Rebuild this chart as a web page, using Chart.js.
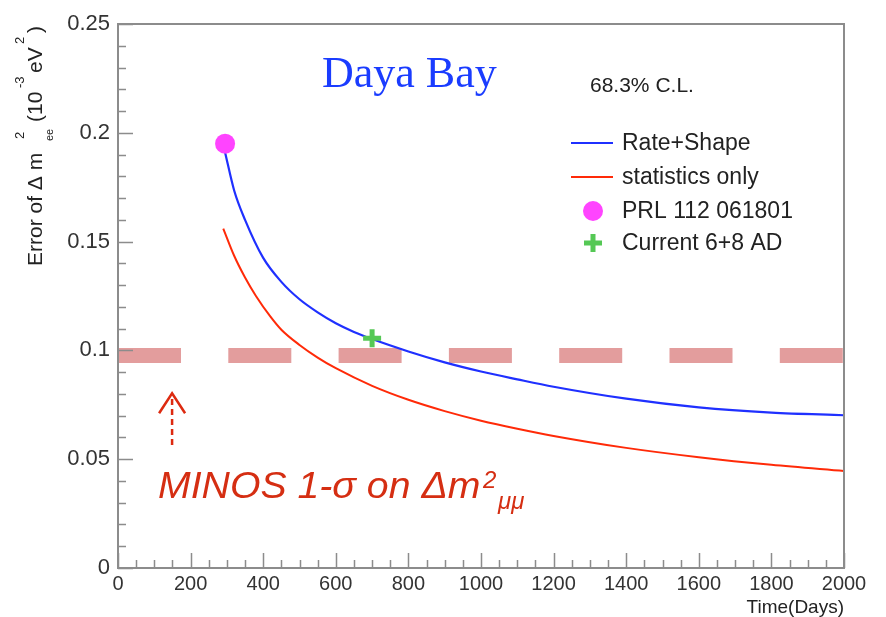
<!DOCTYPE html>
<html>
<head>
<meta charset="utf-8">
<script src="https://cdn.jsdelivr.net/npm/chart.js@4.4.1/dist/chart.umd.min.js"></script>
<style>
  html, body { margin: 0; padding: 0; background: #fff; }
  #wrap { width: 886px; height: 617px; }
</style>
</head>
<body>
<div id="wrap"><canvas id="errorChart" width="886" height="617"></canvas></div>
<script>
// Rate+Shape sensitivity (blue)
const rateShapeDays = [295, 320, 350, 400, 450, 500, 550, 600, 650, 700, 800, 900, 1000, 1100, 1200, 1400, 1600, 1800, 2000];
const rateShapeErr  = [0.191, 0.1735, 0.160, 0.1425, 0.1315, 0.1235, 0.1175, 0.1125, 0.1085, 0.1052, 0.0995, 0.0945, 0.0903, 0.0867, 0.0833, 0.0778, 0.0738, 0.0714, 0.0702];

// statistics only (red)
const statDays = [290, 320, 350, 380, 420, 450, 500, 550, 600, 700, 800, 900, 1000, 1100, 1200, 1400, 1600, 1800, 2000];
const statErr  = [0.156, 0.1435, 0.1335, 0.125, 0.1155, 0.1095, 0.1025, 0.0967, 0.0918, 0.0837, 0.0773, 0.0721, 0.0677, 0.0640, 0.0607, 0.0552, 0.0509, 0.0474, 0.0446];

// single measurements
const prlPoint = [295, 0.195];
const currentPoint = [700, 0.1056];

// MINOS 1-sigma band and its arrow
const minosDays = [0, 2000];
const minosErr = [0.0977, 0.0977];
const arrowDays = 149;
const arrowFrom = 0.0565;
const arrowTo = 0.0803;

// axes
const xTickStep = 200, xMinorStep = 50, xMax = 2000;
const yTickStep = 0.05, yMinorStep = 0.01, yMax = 0.25;

const legendItems = ['Rate+Shape', 'statistics only', 'PRL 112 061801', 'Current 6+8 AD'];

const BLUE = '#1f30ff';
const RED = '#ff2a08';
const PINK = '#ff44ff';
const GREEN = '#55c855';
const BAND = 'rgba(214,110,110,0.68)';
const AXIS = '#8c8c8c';
const TEXT = '#222';
const SANS = '"Liberation Sans", Arial, sans-serif';

function pairs(xs, ys) {
    return xs.map((x, i) => ({ x: x, y: ys[i] }));
}

// Frame, inner ticks, titles, legend, annotations
const rootStyle = {
    id: 'rootStyle',
    afterDraw(chart) {
        const ctx = chart.ctx;
        const a = chart.chartArea;
        const xs = chart.scales.x, ys = chart.scales.y;
        ctx.save();

        // inner tick marks
        ctx.strokeStyle = AXIS;
        ctx.lineWidth = 1.5;
        ctx.beginPath();
        for (let i = 0; i <= Math.round(xMax / xMinorStep); i++) {
            const v = i * xMinorStep;
            const px = Math.round(xs.getPixelForValue(v)) + 0.5;
            const len = (i % Math.round(xTickStep / xMinorStep) === 0) ? 15 : 8;
            ctx.moveTo(px, a.bottom);
            ctx.lineTo(px, a.bottom - len);
        }
        for (let i = 0; i <= Math.round(yMax / yMinorStep); i++) {
            const v = i * yMinorStep;
            const py = Math.round(ys.getPixelForValue(v)) + 0.5;
            const len = (i % Math.round(yTickStep / yMinorStep) === 0) ? 15 : 8;
            ctx.moveTo(a.left, py);
            ctx.lineTo(a.left + len, py);
        }
        ctx.stroke();

        // frame
        ctx.lineWidth = 2;
        ctx.strokeStyle = AXIS;
        ctx.strokeRect(a.left, a.top, a.right - a.left, a.bottom - a.top);

        // arrow pointing at the MINOS band
        const ax = xs.getPixelForValue(arrowDays);
        const y0 = ys.getPixelForValue(arrowFrom);
        const y1 = ys.getPixelForValue(arrowTo);
        ctx.strokeStyle = '#dd2a10';
        ctx.lineWidth = 2.5;
        ctx.setLineDash([6, 4]);
        ctx.beginPath();
        ctx.moveTo(ax, y0);
        ctx.lineTo(ax, y1 + 3);
        ctx.stroke();
        ctx.setLineDash([]);
        ctx.beginPath();
        ctx.moveTo(ax - 13, y1 + 20);
        ctx.lineTo(ax, y1);
        ctx.lineTo(ax + 13, y1 + 20);
        ctx.stroke();

        // MINOS label (slightly wide italic face, like the original)
        ctx.save();
        ctx.fillStyle = '#d52e12';
        ctx.textBaseline = 'alphabetic';
        ctx.textAlign = 'left';
        ctx.translate(158, 498);
        ctx.scale(1.06, 1);
        ctx.font = 'italic 37px ' + SANS;
        const main = 'MINOS 1-σ on Δm';
        ctx.fillText(main, 0, 0);
        ctx.restore();
        ctx.fillStyle = '#d52e12';
        ctx.font = 'italic 24px ' + SANS;
        ctx.fillText('2', 483, 488);
        ctx.font = 'italic 24px ' + SANS;
        ctx.fillText('μμ', 498, 509);

        // Daya Bay
        ctx.fillStyle = '#1a3cff';
        ctx.font = '44px "Liberation Serif", "Times New Roman", serif';
        ctx.fillText('Daya Bay', 322, 87);

        // confidence level
        ctx.fillStyle = TEXT;
        ctx.font = '21px ' + SANS;
        ctx.fillText('68.3% C.L.', 590, 92);

        // legend
        const lx = 571, lx2 = 613, tx0 = 622;
        const rows = [143, 177, 211, 243];
        ctx.font = '23px ' + SANS;
        ctx.textBaseline = 'middle';
        ctx.lineWidth = 2;
        ctx.strokeStyle = BLUE;
        ctx.beginPath(); ctx.moveTo(lx, rows[0]); ctx.lineTo(lx2, rows[0]); ctx.stroke();
        ctx.strokeStyle = RED;
        ctx.beginPath(); ctx.moveTo(lx, rows[1]); ctx.lineTo(lx2, rows[1]); ctx.stroke();
        ctx.fillStyle = PINK;
        ctx.beginPath(); ctx.arc(593, rows[2], 10, 0, Math.PI * 2); ctx.fill();
        ctx.strokeStyle = GREEN;
        ctx.lineWidth = 5;
        ctx.beginPath();
        ctx.moveTo(584, rows[3]); ctx.lineTo(602, rows[3]);
        ctx.moveTo(593, rows[3] - 9); ctx.lineTo(593, rows[3] + 9);
        ctx.stroke();
        ctx.fillStyle = TEXT;
        legendItems.forEach((t, i) => ctx.fillText(t, tx0, rows[i] + 1));

        // x title
        ctx.textBaseline = 'alphabetic';
        ctx.textAlign = 'right';
        ctx.font = '19px ' + SANS;
        ctx.fillText('Time(Days)', a.right, 613);

        // y title, rotated, ROOT-style sub/superscripts
        ctx.translate(42, 266);
        ctx.rotate(-Math.PI / 2);
        ctx.textAlign = 'left';
        const big = '21px ' + SANS;
        const put = (s, size, p, dy) => {
            ctx.font = size + 'px ' + SANS;
            ctx.fillText(s, p, dy);
        };
        put('Error of Δ m', 21, 0, 0);
        put('2', 13, 127, -18);
        put('ee', 11, 125, 11);
        put('(10', 21, 144, 0);
        put('-3', 13, 178, -18);
        put('eV', 21, 193, 0);
        put('2', 13, 222, -18);
        put(')', 21, 233, 0);

        ctx.restore();
    }
};

const chart = new Chart(document.getElementById('errorChart'), {
    type: 'scatter',
    data: {
        datasets: [
            {
                label: 'MINOS 1-sigma',
                data: pairs(minosDays, minosErr),
                showLine: true,
                borderColor: BAND,
                borderWidth: 15,
                borderDash: [63, 47.3],
                borderCapStyle: 'butt',
                pointRadius: 0,
                order: 5
            },
            {
                label: legendItems[1],
                data: pairs(statDays, statErr),
                showLine: true,
                borderColor: RED,
                borderWidth: 2,
                cubicInterpolationMode: 'monotone',
                pointRadius: 0,
                order: 4
            },
            {
                label: legendItems[0],
                data: pairs(rateShapeDays, rateShapeErr),
                showLine: true,
                borderColor: BLUE,
                borderWidth: 2.2,
                cubicInterpolationMode: 'monotone',
                pointRadius: 0,
                order: 3
            },
            {
                label: legendItems[2],
                data: [{ x: prlPoint[0], y: prlPoint[1] }],
                pointStyle: 'circle',
                pointRadius: 10,
                backgroundColor: PINK,
                borderColor: PINK,
                borderWidth: 0,
                order: 2
            },
            {
                label: legendItems[3],
                data: [{ x: currentPoint[0], y: currentPoint[1] }],
                pointStyle: 'cross',
                pointRadius: 9,
                borderColor: GREEN,
                borderWidth: 5,
                order: 1
            }
        ]
    },
    options: {
        responsive: false,
        devicePixelRatio: 1,
        animation: false,
        layout: { padding: { left: 0, right: 42, top: 24, bottom: 0 } },
        plugins: {
            legend: { display: false },
            tooltip: { enabled: false }
        },
        scales: {
            x: {
                type: 'linear',
                min: 0,
                max: xMax,
                border: { display: false },
                grid: { display: false, drawTicks: false },
                ticks: {
                    stepSize: xTickStep,
                    padding: 4,
                    maxRotation: 0,
                    autoSkip: false,
                    color: '#333',
                    font: { family: SANS, size: 20 },
                    callback: (v) => String(v)
                },
                afterFit(scale) { scale.height = 49; }
            },
            y: {
                type: 'linear',
                min: 0,
                max: yMax,
                border: { display: false },
                grid: { display: false, drawTicks: false },
                ticks: {
                    stepSize: yTickStep,
                    padding: 8,
                    color: '#333',
                    font: { family: SANS, size: 22 },
                    callback: (v) => parseFloat(v.toFixed(2)).toString()
                },
                afterFit(scale) { scale.width = 118; }
            }
        }
    },
    plugins: [rootStyle]
});
</script>
</body>
</html>
